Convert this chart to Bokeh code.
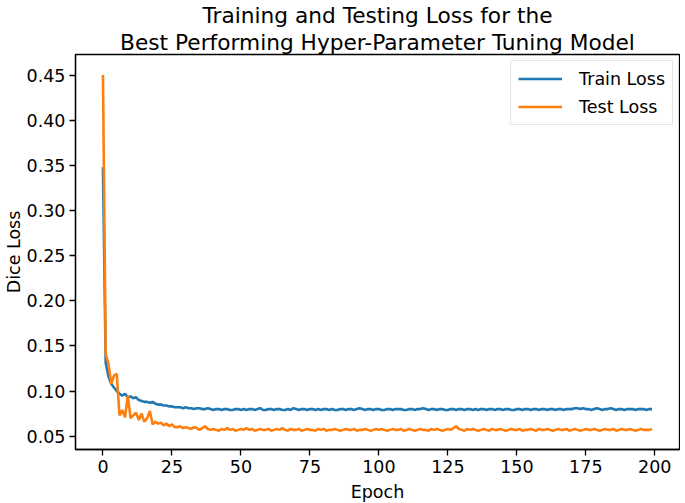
from bokeh.plotting import figure
from bokeh.models import FixedTicker, Title, Legend, LegendItem, Range1d, ColumnDataSource, CustomJSTickFormatter
from bokeh.embed import file_html
from bokeh.resources import INLINE

epochs = list(range(200))

train_loss = [
    0.348, 0.131, 0.116, 0.108, 0.104, 0.100, 0.097, 0.095, 0.097, 0.093,
    0.094, 0.092, 0.093, 0.090, 0.089, 0.088, 0.088, 0.087, 0.088, 0.086,
    0.085, 0.085, 0.084, 0.084, 0.083, 0.083, 0.082, 0.082, 0.082, 0.081,
    0.082, 0.081, 0.081, 0.080, 0.081, 0.081, 0.080, 0.080, 0.081, 0.080,
    0.079, 0.080, 0.080, 0.079, 0.080, 0.080, 0.079, 0.079, 0.080, 0.080,
    0.079, 0.080, 0.079, 0.080, 0.080, 0.079, 0.080, 0.081, 0.079, 0.079,
    0.080, 0.080, 0.079, 0.080, 0.080, 0.079, 0.079, 0.080, 0.079, 0.081,
    0.080, 0.079, 0.080, 0.080, 0.079, 0.080, 0.080, 0.079, 0.080, 0.079,
    0.080, 0.080, 0.079, 0.080, 0.079, 0.079, 0.080, 0.080, 0.079, 0.080,
    0.080, 0.079, 0.080, 0.081, 0.080, 0.079, 0.080, 0.080, 0.079, 0.080,
    0.080, 0.079, 0.079, 0.080, 0.080, 0.079, 0.080, 0.080, 0.080, 0.079,
    0.079, 0.080, 0.080, 0.079, 0.080, 0.080, 0.081, 0.080, 0.079, 0.080,
    0.080, 0.079, 0.080, 0.080, 0.079, 0.079, 0.080, 0.080, 0.079, 0.080,
    0.080, 0.079, 0.080, 0.080, 0.079, 0.080, 0.079, 0.080, 0.080, 0.079,
    0.080, 0.080, 0.079, 0.080, 0.080, 0.079, 0.080, 0.080, 0.079, 0.079,
    0.080, 0.080, 0.079, 0.080, 0.080, 0.079, 0.080, 0.080, 0.079, 0.080,
    0.080, 0.079, 0.080, 0.080, 0.079, 0.080, 0.080, 0.079, 0.080, 0.080,
    0.080, 0.081, 0.081, 0.080, 0.081, 0.080, 0.080, 0.079, 0.080, 0.081,
    0.080, 0.079, 0.080, 0.080, 0.081, 0.080, 0.079, 0.080, 0.080, 0.079,
    0.080, 0.080, 0.080, 0.079, 0.080, 0.080, 0.080, 0.079, 0.080, 0.080,
]

test_loss = [
    0.450, 0.141, 0.130, 0.108, 0.117, 0.119, 0.073, 0.079, 0.071, 0.095,
    0.070, 0.073, 0.076, 0.068, 0.075, 0.066, 0.070, 0.078, 0.063, 0.066,
    0.064, 0.065, 0.062, 0.064, 0.061, 0.063, 0.060, 0.060, 0.061, 0.059,
    0.060, 0.059, 0.058, 0.060, 0.059, 0.057, 0.059, 0.061, 0.058, 0.057,
    0.058, 0.057, 0.056, 0.058, 0.057, 0.059, 0.057, 0.058, 0.056, 0.057,
    0.058, 0.057, 0.059, 0.057, 0.058, 0.056, 0.057, 0.058, 0.057, 0.057,
    0.058, 0.056, 0.057, 0.058, 0.057, 0.059, 0.057, 0.056, 0.058, 0.057,
    0.057, 0.058, 0.056, 0.057, 0.058, 0.057, 0.057, 0.056, 0.058, 0.057,
    0.058, 0.056, 0.057, 0.057, 0.058, 0.057, 0.056, 0.057, 0.058, 0.057,
    0.057, 0.058, 0.056, 0.057, 0.057, 0.058, 0.057, 0.056, 0.057, 0.058,
    0.057, 0.058, 0.057, 0.056, 0.057, 0.058, 0.057, 0.057, 0.058, 0.056,
    0.057, 0.058, 0.057, 0.056, 0.057, 0.058, 0.057, 0.057, 0.056, 0.058,
    0.057, 0.058, 0.057, 0.056, 0.057, 0.058, 0.057, 0.059, 0.061, 0.058,
    0.057, 0.056, 0.058, 0.057, 0.058, 0.057, 0.056, 0.057, 0.058, 0.057,
    0.056, 0.058, 0.057, 0.057, 0.058, 0.057, 0.056, 0.057, 0.058, 0.057,
    0.057, 0.058, 0.056, 0.057, 0.057, 0.058, 0.057, 0.056, 0.058, 0.057,
    0.057, 0.058, 0.057, 0.056, 0.057, 0.058, 0.057, 0.057, 0.058, 0.056,
    0.057, 0.058, 0.057, 0.056, 0.057, 0.058, 0.057, 0.057, 0.058, 0.057,
    0.056, 0.057, 0.058, 0.057, 0.057, 0.058, 0.056, 0.057, 0.058, 0.057,
    0.057, 0.058, 0.057, 0.056, 0.057, 0.058, 0.057, 0.057, 0.057, 0.058,
]

x_ticks = [0, 25, 50, 75, 100, 125, 150, 175, 200]
y_ticks = [0.05, 0.10, 0.15, 0.20, 0.25, 0.30, 0.35, 0.40, 0.45]
title_lines = ["Training and Testing Loss for the",
               "Best Performing Hyper-Parameter Tuning Model"]

FONT = "DejaVu Sans"

p = figure(frame_width=604, frame_height=395, output_backend="svg", toolbar_location=None,
           x_range=Range1d(-9.95, 208.95), y_range=Range1d(0.03525, 0.47275),
           min_border_left=72, min_border_right=1, min_border_top=0, min_border_bottom=0)

p.title.text = title_lines[0]
p.title.align = "center"
p.title.text_font = FONT
p.title.text_font_size = "21.7px"
p.title.text_font_style = "normal"
p.title.text_color = "black"
p.title.standoff = 0
t2 = Title(text=title_lines[1], align="center",
           text_font=FONT, text_font_size="21.7px", text_font_style="normal",
           text_color="black", standoff=0)
p.add_layout(t2, "above")

src = ColumnDataSource(dict(epoch=epochs, train=train_loss, test=test_loss))
r1 = p.line("epoch", "train", source=src, line_color="#1f77b4", line_width=2.6)
r2 = p.line("epoch", "test", source=src, line_color="#ff7f0e", line_width=2.6)

p.xgrid.visible = False
p.ygrid.visible = False
p.outline_line_color = "black"
p.outline_line_width = 1.3
p.background_fill_color = "white"
p.border_fill_color = "white"

p.xaxis.ticker = FixedTicker(ticks=x_ticks)
p.yaxis.ticker = FixedTicker(ticks=y_ticks)
p.yaxis.formatter = CustomJSTickFormatter(code="return tick.toFixed(2);")

for ax in (p.xaxis[0], p.yaxis[0]):
    ax.major_label_text_font = FONT
    ax.major_label_text_font_size = "17.5px"
    ax.major_label_text_color = "black"
    ax.axis_label_text_font = FONT
    ax.axis_label_text_font_size = "17.5px"
    ax.axis_label_text_font_style = "normal"
    ax.axis_label_text_color = "black"
    ax.minor_tick_line_color = None
    ax.major_tick_in = 0
    ax.major_tick_out = 6
    ax.major_tick_line_color = "black"
    ax.major_tick_line_width = 1.3
    ax.axis_line_color = "black"
    ax.axis_line_width = 1.3
    ax.major_label_standoff = 4

p.xaxis.axis_label = "Epoch"
p.yaxis.axis_label = "Dice Loss"
p.xaxis.axis_label_standoff = 6
p.yaxis.axis_label_standoff = 0

legend = Legend(items=[LegendItem(label="Train Loss", renderers=[r1]),
                       LegendItem(label="Test Loss", renderers=[r2])],
                location="top_right")
legend.label_text_font = FONT
legend.label_text_font_size = "17.5px"
legend.label_text_color = "black"
legend.border_line_color = "#cccccc"
legend.border_line_width = 1
legend.glyph_width = 44
legend.glyph_height = 21
legend.label_standoff = 17
legend.spacing = 7
legend.padding = 7
legend.margin = 6
legend.background_fill_alpha = 0.8
p.add_layout(legend)

open("out.html", "w").write(file_html(p, INLINE))
